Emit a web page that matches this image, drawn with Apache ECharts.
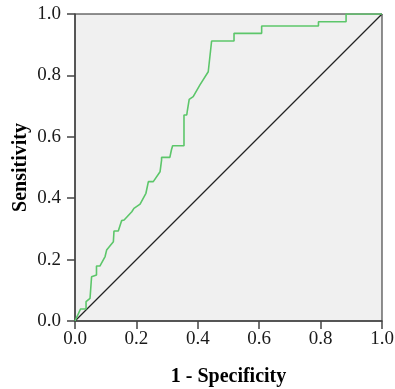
<!DOCTYPE html>
<html><head><meta charset="utf-8">
<script src="https://cdn.jsdelivr.net/npm/echarts@6/dist/echarts.min.js"></script>
<style>html,body{margin:0;padding:0;background:#fff}#c{width:395px;height:389px}</style>
</head><body><div id="c"></div>
<script>
var fpr = [0, 0.018, 0.036, 0.036, 0.049, 0.054, 0.07, 0.07, 0.081, 0.098, 0.103, 0.125, 0.127, 0.141, 0.152, 0.16, 0.185, 0.192, 0.212, 0.231, 0.239, 0.255, 0.277, 0.282, 0.282, 0.309, 0.314, 0.318, 0.355, 0.355, 0.364, 0.366, 0.372, 0.372, 0.385, 0.407, 0.434, 0.445, 0.518, 0.518, 0.608, 0.608, 0.793, 0.793, 0.883, 0.883, 1.0];
var tpr = [0, 0.039, 0.039, 0.063, 0.074, 0.144, 0.15, 0.179, 0.179, 0.21, 0.231, 0.258, 0.293, 0.293, 0.327, 0.329, 0.356, 0.367, 0.381, 0.416, 0.454, 0.454, 0.486, 0.524, 0.533, 0.533, 0.557, 0.571, 0.571, 0.671, 0.671, 0.685, 0.687, 0.722, 0.731, 0.769, 0.812, 0.912, 0.912, 0.937, 0.937, 0.961, 0.961, 0.975, 0.975, 1.0, 1.0];
var refX = [0, 1];
var refY = [0, 1];
var ticks = [0, 0.2, 0.4, 0.6, 0.8, 1.0];

var roc = fpr.map(function(v, i){ return [v, tpr[i]]; });
var ref = refX.map(function(v, i){ return [v, refY[i]]; });
var serif = '"Liberation Serif", "DejaVu Serif", serif';
function axis(name, gap, margin, rot) {
  return {
    type: 'value', min: 0, max: 1, interval: 0.2,
    name: name, nameLocation: 'middle', nameGap: gap, nameRotate: rot,
    nameMoveOverlap: false,
    nameTextStyle: {fontFamily: serif, fontWeight: 'bold', fontSize: 20, color: '#000'},
    axisLine: {show: true, lineStyle: {color: '#444', width: 1.5}},
    axisTick: {show: true, inside: false, length: 8, lineStyle: {color: '#444', width: 1.5}},
    axisLabel: {margin: margin, fontFamily: serif, fontSize: 19, color: '#1a1a1a',
      formatter: function(v){ return v.toFixed(1); }},
    splitLine: {show: false}
  };
}
var chart = echarts.init(document.getElementById('c'), null, {renderer: 'canvas'});
chart.setOption({
  animation: false,
  grid: {left: 75, top: 14, width: 307, height: 307, show: true, containLabel: false,
    outerBoundsMode: 'none',
    backgroundColor: '#f0f0f0', borderColor: '#222', borderWidth: 1},
  xAxis: axis('1 - Specificity', 46, 9, 0),
  yAxis: axis('Sensitivity', 44, 14, 90),
  series: [
    {type: 'line', data: ref, symbol: 'none', lineStyle: {color: '#222', width: 1.2}, z: 2},
    {type: 'line', data: roc, symbol: 'none', lineStyle: {color: '#5cc66a', width: 1.6}, z: 3}
  ]
});
</script></body></html>
